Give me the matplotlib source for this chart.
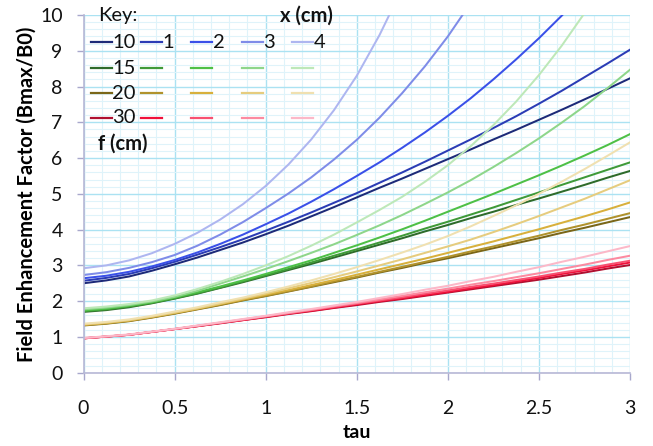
import matplotlib
matplotlib.use("Agg")
import matplotlib.pyplot as plt
from matplotlib.ticker import MultipleLocator, StrMethodFormatter

plt.rcParams['font.family'] = ['Lato', 'DejaVu Sans']

nan = float('nan')

# abscissa (tau), every 0.125
tau = [0, 0.125, 0.25, 0.375, 0.5, 0.625, 0.75, 0.875, 1.0, 1.125, 1.25, 1.375, 1.5,
       1.625, 1.75, 1.875, 2.0, 2.125, 2.25, 2.375, 2.5, 2.625, 2.75, 2.875, 3.0]

# f = 10 cm  (x = first column, 1, 2, 3, 4 cm)
f10_x0 = [2.50, 2.58, 2.69, 2.85, 3.03, 3.22, 3.43, 3.64, 3.87, 4.11, 4.37, 4.63, 4.90,
          5.17, 5.43, 5.70, 5.97, 6.24, 6.52, 6.79, 7.07, 7.35, 7.64, 7.93, 8.23]
f10_x1 = [2.57, 2.65, 2.76, 2.92, 3.10, 3.30, 3.51, 3.73, 3.97, 4.22, 4.48, 4.75, 5.02,
          5.31, 5.60, 5.90, 6.21, 6.52, 6.84, 7.17, 7.52, 7.88, 8.26, 8.64, 9.03]
f10_x2 = [2.64, 2.71, 2.82, 2.97, 3.15, 3.36, 3.60, 3.86, 4.15, 4.45, 4.78, 5.13, 5.50,
          5.88, 6.29, 6.72, 7.18, 7.67, 8.20, 8.76, 9.35, 9.98, 10.65, nan, nan]
f10_x3 = [2.73, 2.81, 2.93, 3.09, 3.29, 3.55, 3.86, 4.21, 4.60, 5.01, 5.46, 5.96, 6.51,
          7.13, 7.82, 8.57, 9.40, 10.33, nan, nan, nan, nan, nan, nan, nan]
f10_x4 = [2.92, 3.00, 3.14, 3.34, 3.60, 3.91, 4.28, 4.71, 5.22, 5.82, 6.52, 7.34, 8.30,
          9.44, 10.75, nan, nan, nan, nan, nan, nan, nan, nan, nan, nan]

# f = 15 cm
f15_x0 = [1.70, 1.75, 1.83, 1.94, 2.07, 2.21, 2.37, 2.53, 2.70, 2.87, 3.04, 3.22, 3.40,
          3.58, 3.76, 3.95, 4.13, 4.32, 4.50, 4.69, 4.87, 5.06, 5.25, 5.45, 5.64]
f15_x1 = [1.72, 1.77, 1.85, 1.95, 2.08, 2.22, 2.38, 2.55, 2.72, 2.90, 3.08, 3.27, 3.45,
          3.64, 3.83, 4.03, 4.22, 4.42, 4.62, 4.83, 5.04, 5.25, 5.46, 5.67, 5.88]
f15_x2 = [1.74, 1.79, 1.87, 1.97, 2.10, 2.25, 2.41, 2.58, 2.76, 2.95, 3.14, 3.35, 3.56,
          3.78, 4.01, 4.25, 4.50, 4.75, 5.00, 5.26, 5.52, 5.79, 6.07, 6.36, 6.67]
f15_x3 = [1.77, 1.82, 1.89, 1.99, 2.12, 2.29, 2.49, 2.69, 2.90, 3.12, 3.35, 3.59, 3.85,
          4.12, 4.41, 4.72, 5.04, 5.38, 5.75, 6.14, 6.55, 6.99, 7.45, 7.95, 8.47]
f15_x4 = [1.80, 1.85, 1.92, 2.02, 2.16, 2.34, 2.54, 2.76, 3.00, 3.26, 3.55, 3.86, 4.20,
          4.55, 4.92, 5.34, 5.80, 6.33, 6.92, 7.58, 8.32, 9.14, 10.05, nan, nan]

# f = 20 cm
f20_x0 = [1.32, 1.37, 1.44, 1.54, 1.65, 1.77, 1.89, 2.02, 2.14, 2.27, 2.40, 2.53, 2.66,
          2.80, 2.93, 3.07, 3.20, 3.34, 3.48, 3.62, 3.76, 3.91, 4.05, 4.20, 4.35]
f20_x1 = [1.33, 1.38, 1.45, 1.55, 1.66, 1.78, 1.90, 2.03, 2.15, 2.28, 2.41, 2.55, 2.68,
          2.82, 2.96, 3.10, 3.24, 3.39, 3.53, 3.68, 3.83, 3.99, 4.14, 4.30, 4.46]
f20_x2 = [1.34, 1.39, 1.46, 1.56, 1.67, 1.79, 1.92, 2.05, 2.18, 2.31, 2.45, 2.59, 2.74,
          2.89, 3.04, 3.19, 3.35, 3.51, 3.67, 3.84, 4.01, 4.19, 4.37, 4.56, 4.76]
f20_x3 = [1.35, 1.40, 1.47, 1.57, 1.68, 1.80, 1.93, 2.07, 2.21, 2.36, 2.51, 2.67, 2.83,
          3.00, 3.17, 3.35, 3.53, 3.72, 3.93, 4.15, 4.38, 4.62, 4.86, 5.12, 5.38]
f20_x4 = [1.37, 1.42, 1.49, 1.59, 1.71, 1.83, 1.97, 2.10, 2.25, 2.41, 2.58, 2.76, 2.95,
          3.15, 3.36, 3.58, 3.82, 4.09, 4.38, 4.68, 5.00, 5.34, 5.69, 6.06, 6.44]

# f = 30 cm
f30_x0 = [0.96, 1.01, 1.06, 1.14, 1.22, 1.30, 1.38, 1.47, 1.55, 1.64, 1.72, 1.81, 1.89,
          1.98, 2.06, 2.15, 2.24, 2.33, 2.42, 2.51, 2.60, 2.70, 2.80, 2.91, 3.01]
f30_x1 = [0.96, 1.01, 1.06, 1.14, 1.22, 1.30, 1.39, 1.47, 1.56, 1.65, 1.73, 1.82, 1.91,
          2.00, 2.08, 2.17, 2.26, 2.36, 2.45, 2.55, 2.65, 2.76, 2.86, 2.97, 3.08]
f30_x2 = [0.96, 1.01, 1.06, 1.14, 1.22, 1.31, 1.39, 1.48, 1.57, 1.66, 1.75, 1.84, 1.93,
          2.02, 2.11, 2.21, 2.30, 2.40, 2.49, 2.59, 2.69, 2.80, 2.90, 3.02, 3.13]
f30_x3 = [0.97, 1.01, 1.06, 1.14, 1.22, 1.31, 1.40, 1.49, 1.58, 1.67, 1.76, 1.86, 1.95,
          2.05, 2.15, 2.25, 2.35, 2.46, 2.56, 2.67, 2.78, 2.90, 3.02, 3.15, 3.27]
f30_x4 = [0.97, 1.02, 1.07, 1.15, 1.23, 1.32, 1.41, 1.50, 1.59, 1.69, 1.78, 1.88, 1.98,
          2.09, 2.20, 2.32, 2.43, 2.56, 2.68, 2.82, 2.95, 3.10, 3.24, 3.39, 3.54]

f_labels = ["10", "15", "20", "30"]
x_labels = ["1", "2", "3", "4"]

blues = ["#1d2a78", "#2b3cb5", "#3a50e8", "#7f8ce8", "#aeb6f0"]
greens = ["#2e6b2a", "#3f9a38", "#4ec046", "#8ed68a", "#bde8b8"]
golds = ["#7a6618", "#b0922c", "#d8b03c", "#e6cc7e", "#f0e0b0"]
reds = ["#b01030", "#f0103a", "#f85070", "#fc8aa0", "#fcb8c8"]

groups = [
    ([f10_x0, f10_x1, f10_x2, f10_x3, f10_x4], blues),
    ([f15_x0, f15_x1, f15_x2, f15_x3, f15_x4], greens),
    ([f20_x0, f20_x1, f20_x2, f20_x3, f20_x4], golds),
    ([f30_x0, f30_x1, f30_x2, f30_x3, f30_x4], reds),
]

W, H = 653, 446
fig = plt.figure(figsize=(W / 100, H / 100), dpi=100)
L, R, T, B = 83.5, 630.0, 15.0, 372.7
ax = fig.add_axes([L / W, 1 - B / H, (R - L) / W, (B - T) / H])

ax.set_xlim(0, 3)
ax.set_ylim(0, 10)
ax.xaxis.set_major_locator(MultipleLocator(0.5))
ax.xaxis.set_minor_locator(MultipleLocator(0.1))
ax.yaxis.set_major_locator(MultipleLocator(1))
ax.yaxis.set_minor_locator(MultipleLocator(0.2))
ax.xaxis.set_major_formatter(StrMethodFormatter('{x:g}'))
ax.yaxis.set_major_formatter(StrMethodFormatter('{x:g}'))
ax.grid(which='minor', color='#dff3fa', linewidth=0.8)
ax.grid(which='major', color='#abe2f2', linewidth=1.0)
ax.set_axisbelow(True)

for s in ['top', 'right']:
    ax.spines[s].set_visible(False)
for s in ['left', 'bottom']:
    ax.spines[s].set_color('#b8b8d6')
    ax.spines[s].set_linewidth(1.2)

ax.tick_params(which='major', direction='out', length=5, width=1, color='#a8a8cc',
               labelsize=14, labelcolor='#111111')
ax.tick_params(axis='x', which='major', pad=15)
ax.tick_params(axis='y', which='major', pad=10)
ax.tick_params(which='minor', length=0)

for series_list, cols in groups:
    for vals, c in zip(series_list, cols):
        ax.plot(tau, vals, color=c, linewidth=1.45, clip_on=True)

ax.set_xlabel('tau', fontsize=14, fontweight='bold')
ax.set_ylabel('Field Enhancement Factor (Bmax/B0)', fontsize=14.5, fontweight='bold')
ax.xaxis.set_label_coords(0.5, (B - 432) / (B - T))
ax.yaxis.set_label_coords((27 - L) / (R - L), 0.5)
ax.xaxis.label.set_va('center')
ax.yaxis.label.set_va('center')

# key (custom legend block)
def ax_x(px):
    return (px - L) / (R - L)

def ax_y(py):
    return (B - py) / (B - T)

row_py = [42.3, 68.3, 93.3, 117.7]
col_px = [90.7, 141.0, 191.3, 241.6, 292.0]
seg = 21.0
for i, (series_list, cols) in enumerate(groups):
    for j, c in enumerate(cols):
        x0 = col_px[j]
        ax.plot([ax_x(x0), ax_x(x0 + seg)], [ax_y(row_py[i])] * 2, color=c,
                linewidth=1.6, transform=ax.transAxes, clip_on=False)
    ax.text(ax_x(col_px[0] + seg + 0.5), ax_y(row_py[i]), f_labels[i], transform=ax.transAxes,
            fontsize=14.5, va='center', ha='left', color='#111111')
for j in range(4):
    ax.text(ax_x(col_px[j + 1] + seg + 0.5), ax_y(row_py[0]), x_labels[j], transform=ax.transAxes,
            fontsize=14.5, va='center', ha='left', color='#111111')
ax.text(ax_x(98), ax_y(16), 'Key:', transform=ax.transAxes, fontsize=14.5,
        va='center', ha='left', color='#111111')
ax.text(ax_x(280), ax_y(16), 'x (cm)', transform=ax.transAxes, fontsize=14.5,
        fontweight='bold', va='center', ha='left', color='#111111')
ax.text(ax_x(98), ax_y(144), 'f (cm)', transform=ax.transAxes, fontsize=14.5,
        fontweight='bold', va='center', ha='left', color='#111111')

fig.savefig('out.png', dpi=100, facecolor='white')
